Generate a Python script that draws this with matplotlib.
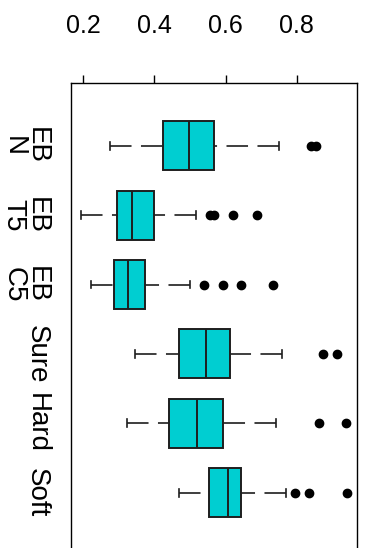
import matplotlib
matplotlib.use("Agg")
import matplotlib.pyplot as plt
import numpy as np

plt.rcParams['font.family'] = ['Liberation Sans', 'DejaVu Sans']
plt.rcParams['lines.scale_dashes'] = False

# methods, listed top to bottom
methods = ["EB\nN", "EB\nT5", "EB\nC5", "Sure", "Hard", "Soft"]

# box statistics for each method
whislo = [0.275, 0.193, 0.221, 0.344, 0.322, 0.468]
q1 = [0.423, 0.296, 0.285, 0.468, 0.442, 0.552]
med = [0.496, 0.336, 0.326, 0.545, 0.521, 0.607]
q3 = [0.568, 0.399, 0.373, 0.611, 0.594, 0.642]
whishi = [0.751, 0.517, 0.499, 0.759, 0.743, 0.771]
fliers = [
    [0.840, 0.853],
    [0.555, 0.568, 0.620, 0.687],
    [0.540, 0.594, 0.643, 0.732],
    [0.875, 0.914],
    [0.863, 0.939],
    [0.794, 0.834, 0.942],
]

xticks = [0.2, 0.4, 0.6, 0.8]

stats = []
for i in range(len(methods)):
    stats.append(dict(whislo=whislo[i], q1=q1[i], med=med[i], q3=q3[i],
                      whishi=whishi[i], fliers=fliers[i]))
pos = np.arange(1, len(methods) + 1)

fig = plt.figure(figsize=(3.65, 5.48), dpi=100)
ax = fig.add_axes([0.1937, -0.013, 0.7836, 0.861])

edge = '#1e1e1e'
res = ax.bxp(stats, positions=pos, widths=0.705, capwidths=0.115,
             orientation='horizontal', patch_artist=True,
             boxprops=dict(facecolor='#00CED1', edgecolor=edge, linewidth=1.4),
             medianprops=dict(color=edge, linewidth=1.4),
             whiskerprops=dict(color=edge, linewidth=1.2, linestyle=(0, (15.5, 6.8))),
             capprops=dict(color=edge, linewidth=1.2),
             flierprops=dict(marker='o', markerfacecolor='black',
                             markeredgecolor='black', markersize=6))

# dashes run from the whisker end back toward the box
for w in res['whiskers']:
    w.set_xdata(w.get_xdata()[::-1])
    w.set_ydata(w.get_ydata()[::-1])

ax.set_xlim(0.1646, 0.9686)
ax.set_ylim(6.899, 0.101)

ax.xaxis.tick_top()
ax.set_xticks(xticks)
ax.set_xticklabels(["%.1f" % t for t in xticks])
ax.tick_params(axis='x', length=5.8, width=1.0, pad=27, labelsize=18, color='black')

ax.set_yticks(pos)
ax.set_yticklabels(methods)
ax.tick_params(axis='y', length=0, pad=15, labelsize=20, labelrotation=-90)
for lab in ax.get_yticklabels():
    lab.set_va('center')
    lab.set_ha('right')
    lab.set_multialignment('center')
    lab.set_linespacing(0.85)

for s in ax.spines.values():
    s.set_linewidth(1.0)
    s.set_color('black')

fig.savefig('out.png', dpi=100)
